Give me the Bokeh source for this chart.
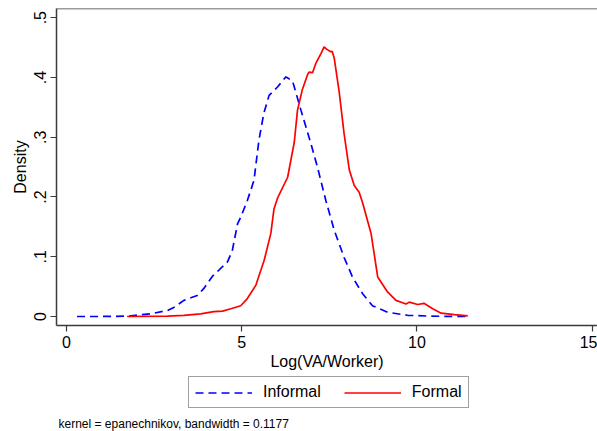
import numpy as np
from bokeh.plotting import figure
from bokeh.layouts import column
from bokeh.models import (Range1d, FixedTicker, Legend, LegendItem, Span, Label)
from bokeh.embed import file_html
from bokeh.resources import INLINE

# Kernel density estimates of log value added per worker
informal_x = [0.3, 1.0, 1.73, 2.4, 2.88, 3.06, 3.35, 3.73, 3.92, 4.16, 4.59, 4.73,
              4.88, 4.97, 5.16, 5.35, 5.49, 5.63, 5.78, 6.02, 6.26, 6.45, 6.69,
              6.97, 7.16, 7.40, 7.64, 7.92, 8.16, 8.45, 8.73, 9.16, 9.73, 10.4, 11.49]
informal_y = [0.0, 0.0, 0.0005, 0.0045, 0.010, 0.015, 0.027, 0.035, 0.047, 0.067,
              0.091, 0.110, 0.155, 0.166, 0.194, 0.228, 0.295, 0.340, 0.370, 0.384,
              0.401, 0.394, 0.345, 0.290, 0.250, 0.194, 0.144, 0.099, 0.066, 0.038,
              0.018, 0.007, 0.002, 0.0005, 0.0]

formal_x = [1.73, 2.88, 3.35, 3.83, 4.2, 4.45, 4.69, 4.97, 5.16, 5.4, 5.64, 5.83,
            5.92, 6.02, 6.31, 6.5, 6.59, 6.73, 6.88, 6.92, 7.02, 7.11, 7.26, 7.35,
            7.43, 7.54, 7.58, 7.64, 7.78, 7.92, 8.07, 8.21, 8.35, 8.45, 8.69, 8.88,
            9.16, 9.4, 9.69, 9.78, 10.02, 10.2, 10.45, 10.69, 11.07, 11.45]
formal_y = [0.0, 0.0005, 0.002, 0.0045, 0.008, 0.009, 0.013, 0.018, 0.030, 0.052,
            0.094, 0.139, 0.180, 0.198, 0.233, 0.292, 0.345, 0.380, 0.405, 0.409,
            0.408, 0.423, 0.440, 0.451, 0.447, 0.443, 0.444, 0.432, 0.376, 0.306,
            0.245, 0.219, 0.208, 0.190, 0.139, 0.066, 0.041, 0.027, 0.021, 0.024,
            0.020, 0.022, 0.013, 0.0055, 0.003, 0.001]

x_ticks = [0, 5, 10, 15]
y_ticks = [0, 0.1, 0.2, 0.3, 0.4, 0.5]
y_tick_labels = ["0", ".1", ".2", ".3", ".4", ".5"]
series_names = ["Informal", "Formal"]
note_text = "kernel = epanechnikov, bandwidth = 0.1177"

FONT = "Liberation Sans"
AXIS_COLOR = "#3a3a3a"
W = 597
LEFT = 56
TOP_H = 372
KEY_H = 431 - TOP_H

# ---- main density plot ----
p = figure(width=W, height=TOP_H, output_backend="svg", toolbar_location=None,
           x_range=Range1d(-0.2857, 15.151), y_range=Range1d(-0.0151, 0.5154),
           min_border_left=LEFT, min_border_right=0, min_border_top=8,
           min_border_bottom=TOP_H - 325)
p.outline_line_color = None
p.background_fill_color = "white"
p.border_fill_color = "white"
p.xgrid.visible = False
p.ygrid.visible = False

INF_STYLE = dict(line_color="blue", line_width=1.7, line_dash="8 5")
FOR_STYLE = dict(line_color="red", line_width=1.7)

p.line(informal_x, informal_y, **INF_STYLE)
p.line(formal_x, formal_y, **FOR_STYLE)

# top border of the plot region
p.add_layout(Span(location=0.5154, dimension="width", line_color=AXIS_COLOR,
                  line_width=1.5))

for ax in (p.xaxis[0], p.yaxis[0]):
    ax.axis_line_color = AXIS_COLOR
    ax.axis_line_width = 1.5
    ax.major_tick_line_color = AXIS_COLOR
    ax.major_tick_line_width = 1.2
    ax.major_tick_in = 0
    ax.major_tick_out = 6
    ax.minor_tick_line_color = None
    ax.major_label_text_font = FONT
    ax.major_label_text_font_size = "16px"
    ax.major_label_text_color = "black"
    ax.axis_label_text_font = FONT
    ax.axis_label_text_font_size = "16px"
    ax.axis_label_text_font_style = "normal"
    ax.axis_label_text_color = "black"

p.xaxis.ticker = FixedTicker(ticks=x_ticks)
p.xaxis.axis_label = "Log(VA/Worker)"
p.xaxis.major_label_standoff = 4
p.xaxis.axis_label_standoff = 2

p.yaxis.ticker = FixedTicker(ticks=y_ticks)
p.yaxis.major_label_overrides = dict(zip(y_ticks, y_tick_labels))
p.yaxis.major_label_orientation = "vertical"
p.yaxis.axis_label = "Density"
p.yaxis.major_label_standoff = 4
p.yaxis.axis_label_standoff = 3

# ---- key strip with the legend and the kernel note ----
# x and y of this strip are in pixels: x from the canvas left, y from its bottom
k = figure(width=W, height=KEY_H, output_backend="svg", toolbar_location=None,
           x_range=Range1d(LEFT, W), y_range=Range1d(0, KEY_H),
           x_axis_location=None, y_axis_location=None,
           min_border_left=LEFT, min_border_right=0,
           min_border_top=0, min_border_bottom=0)
k.outline_line_color = None
k.background_fill_color = "white"
k.border_fill_color = "white"
k.xgrid.visible = False
k.ygrid.visible = False

# placeholder renderers carrying the series styles for the legend swatches
blank = np.full(1, np.nan)
k_inf = k.line(blank, blank, **INF_STYLE)
k_for = k.line(blank, blank, **FOR_STYLE)

legend = Legend(items=[LegendItem(label=series_names[0], renderers=[k_inf]),
                       LegendItem(label=series_names[1], renderers=[k_for])],
                orientation="horizontal", location=(188 - LEFT, KEY_H - 36),
                label_text_font=FONT, label_text_font_size="16px",
                label_text_color="black",
                glyph_width=57, glyph_height=15, label_height=15,
                label_standoff=11, spacing=23, padding=6, margin=0,
                border_line_color="#404040", border_line_width=1.3,
                background_fill_color="white")
k.add_layout(legend, "center")

k.add_layout(Label(x=58, y=431 - 423.5, text=note_text,
                   text_font=FONT, text_font_size="12px", text_color="black",
                   text_baseline="alphabetic", text_align="left"))

layout = column(p, k, spacing=0)
open("out.html", "w").write(file_html(layout, INLINE))
